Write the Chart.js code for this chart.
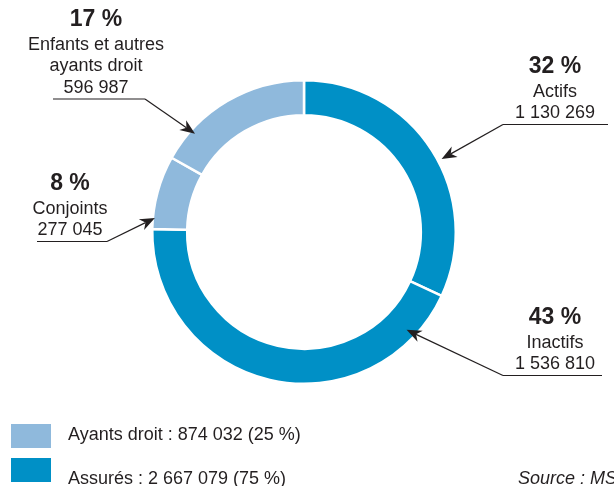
<!DOCTYPE html>
<html>
<head>
<meta charset="utf-8">
<script src="https://cdn.jsdelivr.net/npm/chart.js@4.4.1/dist/chart.umd.min.js"></script>
<style>
  body { margin: 0; background: #fff; }
</style>
</head>
<body>
<canvas id="chart" width="614" height="486"></canvas>
<script>
// data
let labelLines = [['Actifs'], ['Inactifs'], ['Conjoints'], ['Enfants et autres', 'ayants droit']];
let categories = labelLines.map(l => l.join(' '));
let values = [1130269, 1536810, 277045, 596987];
let percentLabels = ['32 %', '43 %', '8 %', '17 %'];
let valueLabels = ['1 130 269', '1 536 810', '277 045', '596 987'];
let groupLabels = ['Ayants droit : 874 032 (25 %)', 'Assurés : 2 667 079 (75 %)'];
let sourceText = 'Source : MS';

let dark = '#0090c6';
let light = '#8fb9dc';
let sliceColors = [dark, dark, light, light];
let groupColors = [light, dark];

// callout boxes: centre x, y of the % line, underline span, where on the slice the arrow lands (0..1)
// and how far in/out of the outer edge the tip goes
let callouts = [
  { cx: 555, y: 67,  ul: [503, 608], from: 503, along: 0.54, depth: 4 },
  { cx: 555, y: 318, ul: [503, 602], from: 503, along: 0.12, depth: -10 },
  { cx: 70,  y: 184, ul: [37, 107],  from: 107, along: 0.15, depth: -2 },
  { cx: 96,  y: 20,  ul: [53, 145],  from: 145, along: 0.21, depth: -5 }
];

function arrow(ctx, x1, y1, x2, y2) {
  let a = Math.atan2(y2 - y1, x2 - x1);
  let len = 15, w = 6;
  let cos = Math.cos(a), sin = Math.sin(a);
  ctx.beginPath();
  ctx.moveTo(x1, y1);
  ctx.lineTo(x2 - cos * len * 0.7, y2 - sin * len * 0.7);
  ctx.stroke();
  ctx.beginPath();
  ctx.moveTo(x2, y2);
  ctx.lineTo(x2 - cos * len + sin * w, y2 - sin * len - cos * w);
  ctx.lineTo(x2 - cos * len * 0.7, y2 - sin * len * 0.7);
  ctx.lineTo(x2 - cos * len - sin * w, y2 - sin * len + cos * w);
  ctx.closePath();
  ctx.fill();
}

let calloutPlugin = {
  id: 'callouts',
  afterDraw(chart) {
    let ctx = chart.ctx;
    let arcs = chart.getDatasetMeta(0).data;
    ctx.save();
    ctx.textAlign = 'center';
    ctx.textBaseline = 'middle';
    callouts.forEach((c, i) => {
      ctx.fillStyle = '#231f20';
      ctx.font = 'bold 23px "Liberation Sans", Arial, sans-serif';
      ctx.fillText(percentLabels[i], c.cx, c.y);
      ctx.font = '18px "Liberation Sans", Arial, sans-serif';
      let lines = labelLines[i].concat([valueLabels[i]]);
      let y = c.y + 25;
      lines.forEach((t, k) => {
        ctx.fillText(t, c.cx, y + k * 21.5);
      });
      let uy = y + (lines.length - 1) * 21.5 + 11;
      ctx.strokeStyle = '#231f20';
      ctx.lineWidth = 1.2;
      ctx.beginPath();
      ctx.moveTo(c.ul[0], uy);
      ctx.lineTo(c.ul[1], uy);
      ctx.stroke();
      let arc = arcs[i];
      let ang = arc.startAngle + c.along * (arc.endAngle - arc.startAngle);
      let r = arc.outerRadius + c.depth;
      arrow(ctx, c.from, uy, arc.x + Math.cos(ang) * r, arc.y + Math.sin(ang) * r);
    });

    // legend
    ctx.textAlign = 'left';
    ctx.textBaseline = 'alphabetic';
    ctx.font = '18px "Liberation Sans", Arial, sans-serif';
    groupLabels.forEach((t, k) => {
      ctx.fillStyle = groupColors[k];
      ctx.fillRect(11, 424 + k * 34, 40, 24);
      ctx.fillStyle = '#231f20';
      ctx.fillText(t, 68, 440 + k * 44);
    });
    ctx.font = 'italic 18px "Liberation Sans", Arial, sans-serif';
    ctx.fillText(sourceText, 518, 484);
    ctx.restore();
  }
};

let ctx = document.getElementById('chart').getContext('2d');
let chart = new Chart(ctx, {
  type: 'doughnut',
  data: {
    labels: categories,
    datasets: [{
      data: values,
      backgroundColor: sliceColors,
      borderColor: '#fff',
      borderWidth: 2.5
    }]
  },
  options: {
    responsive: false,
    animation: false,
    devicePixelRatio: 1,
    cutout: '77%',
    layout: { padding: { left: 151, right: 157, top: 79, bottom: 101 } },
    plugins: {
      legend: { display: false },
      tooltip: { enabled: false }
    }
  },
  plugins: [calloutPlugin]
});
</script>
</body>
</html>
